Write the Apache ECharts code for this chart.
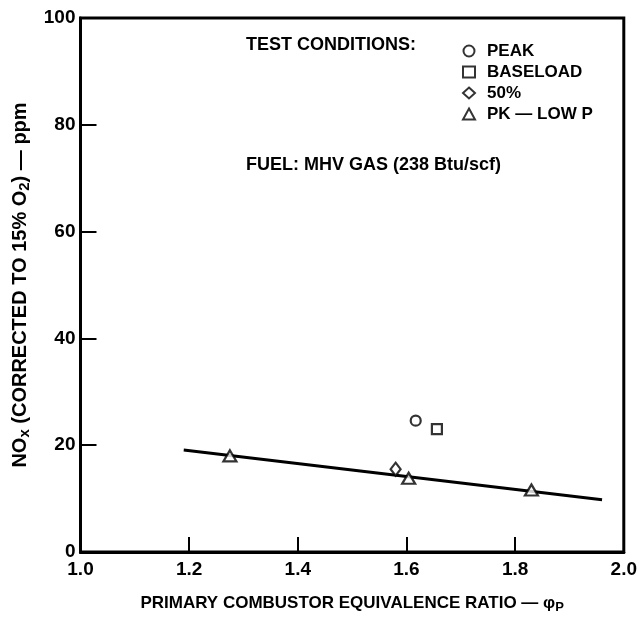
<!DOCTYPE html>
<html>
<head>
<meta charset="utf-8">
<script src="https://cdn.jsdelivr.net/npm/echarts@6/dist/echarts.min.js"></script>
<style>
    html, body { margin: 0; padding: 0; background: #fff; }
    #nox-chart { width: 640px; height: 619px; }
</style>
</head>
<body>
<div id="nox-chart"></div>
<script>
    // 试验工况数据
    var peakX = [1.617];
    var peakY = [24.6];
    var baseX = [1.656];
    var baseY = [23.0];
    var halfX = [1.58];
    var halfY = [15.5];
    var lowPX = [1.275, 1.604, 1.83];
    var lowPY = [18.0, 13.8, 11.6];
    // 拟合直线两端点
    var fitX = [1.19, 1.96];
    var fitY = [19.1, 9.8];

    var seriesNames = ['PEAK', 'BASELOAD', '50%', 'PK — LOW P'];
    var xTicks = [1.0, 1.2, 1.4, 1.6, 1.8, 2.0];
    var yTicks = [0, 20, 40, 60, 80, 100];

    function pairs(xs, ys) {
        var out = [];
        for (var i = 0; i < xs.length; i++) {
            out.push([xs[i], ys[i]]);
        }
        return out;
    }

    var font = 'Liberation Sans, Arial, sans-serif';

    function hollow(name, symbol, size, xs, ys) {
        return {
            name: name,
            type: 'scatter',
            symbol: symbol,
            symbolSize: size,
            itemStyle: { color: '#fff', borderColor: '#000', borderWidth: 2.2 },
            data: pairs(xs, ys),
            z: 5
        };
    }

    var myChart = echarts.init(document.getElementById('nox-chart'));

    var option = {
        backgroundColor: '#fff',
        animation: false,
        grid: {
            left: 80.5,
            right: 15,
            top: 18,
            bottom: 65,
            show: true,
            borderColor: '#000',
            borderWidth: 3
        },
        legend: {
            orient: 'vertical',
            left: 457,
            top: 37.5,
            itemWidth: 12,
            itemHeight: 11,
            itemGap: 4,
            data: seriesNames,
            textStyle: {
                color: '#000', fontFamily: font, fontWeight: 'bold', fontSize: 17,
                lineHeight: 17, padding: [0, 0, 0, 7]
            }
        },
        graphic: [
            {
                type: 'text',
                left: 246,
                top: 36,
                style: { text: 'TEST CONDITIONS:', fill: '#000', font: 'bold 18px ' + font }
            },
            {
                type: 'text',
                left: 246,
                top: 156,
                style: { text: 'FUEL: MHV GAS (238 Btu/scf)', fill: '#000', font: 'bold 18px ' + font }
            }
        ],
        xAxis: {
            type: 'value',
            min: xTicks[0],
            max: xTicks[xTicks.length - 1],
            interval: 0.2,
            name: 'PRIMARY COMBUSTOR EQUIVALENCE RATIO — φ{sub|P}',
            nameLocation: 'middle',
            nameGap: 41,
            nameTextStyle: {
                color: '#000', fontFamily: font, fontWeight: 'bold', fontSize: 17,
                rich: { sub: { fontFamily: font, fontWeight: 'bold', fontSize: 13, padding: [8, 0, 0, 0] } }
            },
            axisLine: { lineStyle: { color: '#000', width: 3 } },
            axisTick: { inside: true, length: 15, lineStyle: { color: '#000', width: 2 } },
            axisLabel: {
                color: '#000', fontFamily: font, fontWeight: 'bold', fontSize: 19, margin: 8,
                formatter: function (v) { return v.toFixed(1); }
            },
            splitLine: { show: false }
        },
        yAxis: {
            type: 'value',
            min: yTicks[0],
            max: yTicks[yTicks.length - 1],
            interval: 20,
            name: 'NO{sub|x} (CORRECTED TO 15% O{sub|2}) — ppm',
            nameLocation: 'middle',
            nameGap: 48,
            nameTextStyle: {
                color: '#000', fontFamily: font, fontWeight: 'bold', fontSize: 20,
                rich: { sub: { fontFamily: font, fontWeight: 'bold', fontSize: 15, padding: [9, 0, 0, 0] } }
            },
            axisLine: { lineStyle: { color: '#000', width: 3 } },
            axisTick: { inside: true, length: 16, lineStyle: { color: '#000', width: 2 } },
            axisLabel: { color: '#000', fontFamily: font, fontWeight: 'bold', fontSize: 19, margin: 5 },
            splitLine: { show: false }
        },
        series: [
            hollow(seriesNames[0], 'circle', 10, peakX, peakY),
            hollow(seriesNames[1], 'rect', 10, baseX, baseY),
            hollow(seriesNames[2], 'diamond', [10, 13], halfX, halfY),
            hollow(seriesNames[3], 'triangle', [13, 11], lowPX, lowPY),
            {
                name: 'fit',
                type: 'line',
                symbol: 'none',
                lineStyle: { color: '#000', width: 3 },
                data: pairs(fitX, fitY),
                z: 3
            }
        ]
    };

    myChart.setOption(option);
</script>
</body>
</html>
